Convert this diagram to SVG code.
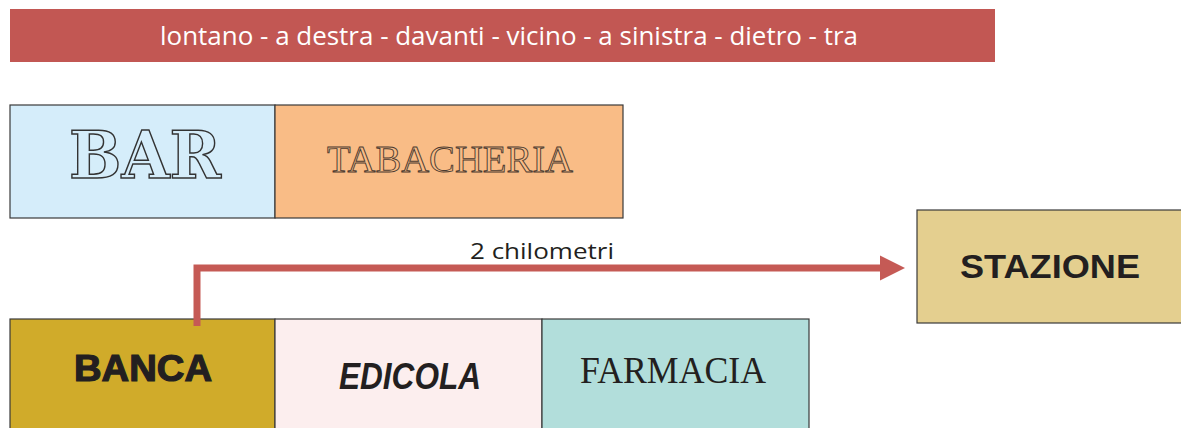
<svg xmlns="http://www.w3.org/2000/svg" width="1181" height="428" viewBox="0 0 1181 428">
<defs>
<style>
.box{stroke:#3a3a3a;stroke-width:1.2}
.dark{fill:#231F20}
</style>
<marker id="ah" viewBox="0 0 10 10" refX="0" refY="5" markerWidth="3.6" markerHeight="3.6" markerUnits="strokeWidth" orient="auto">
<path d="M0,0 L10,5 L0,10 Z" fill="#C55A55"/>
</marker>
</defs>
<rect width="1181" height="428" fill="#ffffff"/>
<g id="banner">
<rect x="10" y="9" width="985" height="53" fill="#C25753"/>
<text x="509" y="45" text-anchor="middle" font-family="Open Sans, sans-serif" font-size="25" fill="#ffffff" textLength="698" lengthAdjust="spacingAndGlyphs">lontano - a destra - davanti - vicino - a sinistra - dietro - tra</text>
</g>
<g id="bar">
<rect class="box" x="10" y="105" width="265" height="113" fill="#D5EDFA"/>
<text x="145" y="178" text-anchor="middle" font-family="DejaVu Serif, serif" font-weight="bold" font-size="66" fill="#D5EDFA" stroke="#333" stroke-width="1.5" textLength="152" lengthAdjust="spacingAndGlyphs">BAR</text>
</g>
<g id="tabacheria">
<rect class="box" x="275" y="105" width="348" height="113" fill="#F9BC86"/>
<text x="450" y="172" text-anchor="middle" font-family="Liberation Serif, serif" font-size="38" fill="#F9BC86" stroke="#4a3a30" stroke-width="0.9" textLength="246" lengthAdjust="spacingAndGlyphs">TABACHERIA</text>
</g>
<g id="stazione">
<rect class="box" x="917" y="210" width="266" height="113" fill="#E4CF8F"/>
<text x="1050" y="278" text-anchor="middle" font-family="Liberation Sans, sans-serif" font-weight="bold" font-size="34" class="dark" textLength="180" lengthAdjust="spacingAndGlyphs">STAZIONE</text>
</g>
<g id="banca">
<rect class="box" x="10" y="319" width="265" height="115" fill="#D0AB2A"/>
<text x="143" y="381" text-anchor="middle" font-family="Liberation Sans, sans-serif" font-weight="bold" font-size="36" class="dark" stroke="#231F20" stroke-width="1.2" textLength="138" lengthAdjust="spacingAndGlyphs">BANCA</text>
</g>
<g id="edicola">
<rect class="box" x="275" y="319" width="267" height="115" fill="#FCEEEE"/>
<text x="410" y="389" text-anchor="middle" font-family="Liberation Sans, sans-serif" font-weight="bold" font-style="italic" font-size="36" class="dark" textLength="142" lengthAdjust="spacingAndGlyphs">EDICOLA</text>
</g>
<g id="farmacia">
<rect class="box" x="542" y="319" width="267" height="115" fill="#B2DEDB"/>
<text x="673" y="383" text-anchor="middle" font-family="Liberation Serif, serif" font-size="37" class="dark" textLength="186" lengthAdjust="spacingAndGlyphs">FARMACIA</text>
</g>
<g id="connectors">
<path d="M197,326 L197,268 L880,268" fill="none" stroke="#C55A55" stroke-width="7" marker-end="url(#ah)"/>
<text x="542" y="259" text-anchor="middle" font-family="Open Sans, sans-serif" font-size="22" class="dark" textLength="144" lengthAdjust="spacingAndGlyphs">2 chilometri</text>
</g>
</svg>
